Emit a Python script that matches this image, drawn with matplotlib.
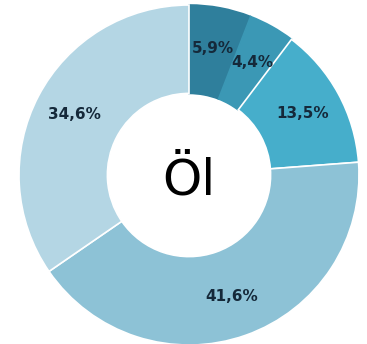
import matplotlib.pyplot as plt

# quote in percent, clockwise from top
werte = [5.9, 4.4, 13.5, 41.6, 34.6]
farben = ["#2f7f9c", "#3b98b5", "#46aecb", "#8dc2d6", "#b4d6e4"]

fig = plt.figure(figsize=(3.67, 3.44), dpi=100)
ax = fig.add_axes([0, 0, 1, 1])

wedges, texte, autotexte = ax.pie(
    werte, colors=farben, startangle=90, counterclock=False,
    radius=1, wedgeprops=dict(width=0.52, edgecolor="white", linewidth=1.2),
    autopct=lambda p: f"{p:.1f}%".replace(".", ","), pctdistance=0.76,
    textprops=dict(color="#15293a", fontsize=11, fontweight="bold"),
)
# keine weisse Trennlinie zwischen den beiden dunkelsten Segmenten
for w in wedges[:2]:
    w.set_edgecolor(w.get_facecolor())

ax.text(0.0, -0.03, "Öl", ha="center", va="center", fontsize=36, color="black")

ax.set_xlim(-189 / 170, 178 / 170)
ax.set_ylim(-169 / 170, 175 / 170)
ax.set_aspect("auto")
ax.axis("off")

fig.savefig("out.png", dpi=100)
